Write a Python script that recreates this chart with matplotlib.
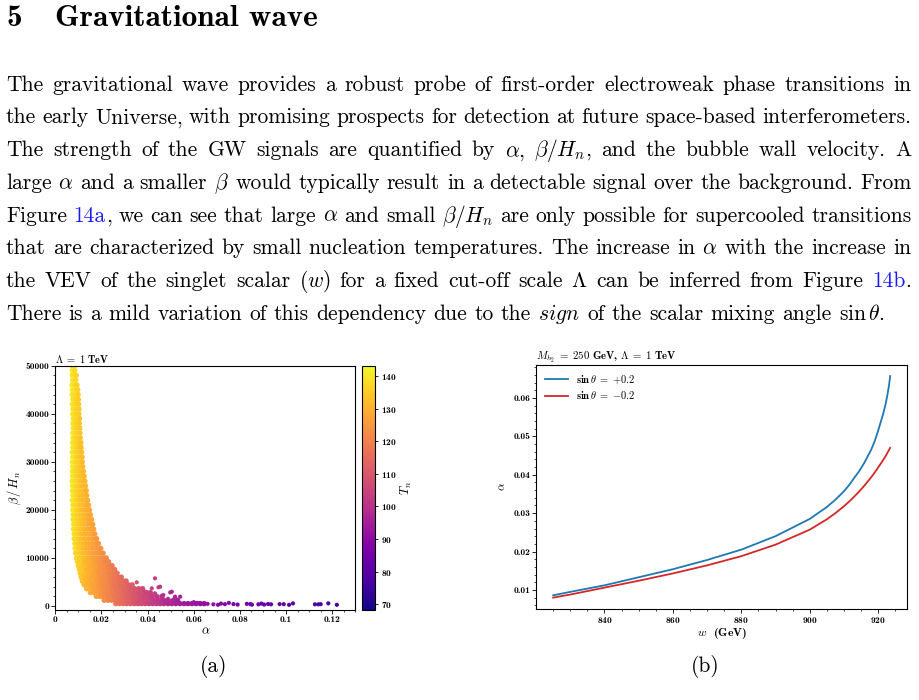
import re

import matplotlib.pyplot as plt
import matplotlib.ticker as ticker

plt.rcParams['font.family'] = 'cmb10'
plt.rcParams['mathtext.fontset'] = 'cm'
plt.rcParams['axes.formatter.use_mathtext'] = True

W, H = 919, 700
LINK = '#1a1aff'

heading_num = '5'
heading_txt = 'Gravitational wave'
paragraph = [
    "The gravitational wave provides a robust probe of first-order electroweak phase transitions in",
    "the early Universe, with promising prospects for detection at future space-based interferometers.",
    r"The strength of the GW signals are quantified by $\alpha$, $\beta/H_n$, and the bubble wall velocity. A",
    r"large $\alpha$ and a smaller $\beta$ would typically result in a detectable signal over the background. From",
    r"Figure [14a], we can see that large $\alpha$ and small $\beta/H_n$ are only possible for supercooled transitions",
    r"that are characterized by small nucleation temperatures. The increase in $\alpha$ with the increase in",
    r"the VEV of the singlet scalar $(w)$ for a fixed cut-off scale $\Lambda$ can be inferred from Figure [14b].",
    r"There is a mild variation of this dependency due to the $\mathit{sign}$ of the scalar mixing angle $\sin\theta$.",
]

# panel (a): scatter rows (beta level, alpha values, Tn values)
band_beta = [49800, 49000, 48000, 47000, 46000, 45000, 44000, 43000, 42000, 41000,
             40000, 39000, 38000, 37000, 36000, 35000, 34000, 33000, 32000, 31000,
             30000, 29000, 28000, 27000, 26000, 25000, 24000, 23000, 22000, 21000,
             20000, 19000, 18000, 17000, 16000, 15000, 14000, 13000, 12000, 11000,
             10000, 9200, 8400, 7600, 6800, 6000, 5200, 4400, 3600, 2800,
             2000, 1200, 500]
band_alpha = [
    [0.0075, 0.0082],
    [0.0074, 0.0084],
    [0.0073, 0.0083, 0.0091],
    [0.0075, 0.0088],
    [0.0072, 0.0082, 0.0094],
    [0.0074, 0.0086, 0.0097],
    [0.0073, 0.0085, 0.0099],
    [0.0076, 0.0089, 0.0100],
    [0.0074, 0.0087, 0.0101],
    [0.0077, 0.0090, 0.0103],
    [0.0075, 0.0088, 0.0102],
    [0.0078, 0.0091, 0.0105],
    [0.0076, 0.0089, 0.0104],
    [0.0078, 0.0092, 0.0106],
    [0.0076, 0.0090, 0.0107],
    [0.0077, 0.0093, 0.0108],
    [0.0075, 0.0089, 0.0102, 0.0111],
    [0.0076, 0.0091, 0.0105, 0.0112],
    [0.0074, 0.0088, 0.0101, 0.0114],
    [0.0076, 0.0090, 0.0104, 0.0116],
    [0.0074, 0.0089, 0.0103, 0.0117],
    [0.0075, 0.0090, 0.0105, 0.0119],
    [0.0074, 0.0088, 0.0102, 0.0115, 0.0122],
    [0.0075, 0.0090, 0.0104, 0.0117, 0.0125],
    [0.0073, 0.0087, 0.0101, 0.0115, 0.0128],
    [0.0075, 0.0090, 0.0104, 0.0118, 0.0131],
    [0.0074, 0.0088, 0.0102, 0.0116, 0.0130, 0.0134],
    [0.0076, 0.0091, 0.0105, 0.0120, 0.0136],
    [0.0074, 0.0089, 0.0104, 0.0119, 0.0133, 0.0140],
    [0.0077, 0.0092, 0.0107, 0.0122, 0.0137, 0.0144],
    [0.0076, 0.0090, 0.0105, 0.0120, 0.0135, 0.0148],
    [0.0078, 0.0093, 0.0108, 0.0123, 0.0138, 0.0152],
    [0.0077, 0.0092, 0.0107, 0.0122, 0.0137, 0.0150, 0.0157],
    [0.0080, 0.0095, 0.0110, 0.0125, 0.0140, 0.0155, 0.0162],
    [0.0079, 0.0094, 0.0109, 0.0124, 0.0139, 0.0153, 0.0166],
    [0.0082, 0.0097, 0.0112, 0.0127, 0.0142, 0.0157, 0.0171],
    [0.0082, 0.0097, 0.0112, 0.0127, 0.0142, 0.0157, 0.0171, 0.0179],
    [0.0085, 0.0100, 0.0115, 0.0130, 0.0145, 0.0160, 0.0175, 0.0187],
    [0.0086, 0.0101, 0.0116, 0.0131, 0.0146, 0.0161, 0.0176, 0.0189, 0.0197],
    [0.0089, 0.0104, 0.0119, 0.0134, 0.0149, 0.0164, 0.0179, 0.0194, 0.0207],
    [0.0092, 0.0107, 0.0122, 0.0137, 0.0152, 0.0167, 0.0182, 0.0197, 0.0211, 0.0221],
    [0.0096, 0.0111, 0.0126, 0.0141, 0.0156, 0.0171, 0.0186, 0.0201, 0.0216, 0.0231],
    [0.0100, 0.0115, 0.0130, 0.0146, 0.0161, 0.0177, 0.0192, 0.0208, 0.0223, 0.0237, 0.0246],
    [0.0104, 0.0119, 0.0135, 0.0150, 0.0166, 0.0181, 0.0197, 0.0212, 0.0228, 0.0243, 0.0257],
    [0.0108, 0.0124, 0.0140, 0.0156, 0.0172, 0.0188, 0.0204, 0.0220, 0.0236, 0.0252, 0.0268],
    [0.0112, 0.0128, 0.0144, 0.0160, 0.0176, 0.0192, 0.0208, 0.0224, 0.0240, 0.0256, 0.0272, 0.0286],
    [0.0117, 0.0133, 0.0149, 0.0165, 0.0181, 0.0197, 0.0213, 0.0229, 0.0245, 0.0261, 0.0277, 0.0293,
     0.0307],
    [0.0125, 0.0141, 0.0157, 0.0173, 0.0189, 0.0205, 0.0221, 0.0237, 0.0253, 0.0269, 0.0285, 0.0301,
     0.0317, 0.0333],
    [0.0136, 0.0152, 0.0168, 0.0184, 0.0200, 0.0216, 0.0232, 0.0248, 0.0264, 0.0280, 0.0296, 0.0312,
     0.0328, 0.0344, 0.0362, 0.0378],
    [0.0152, 0.0168, 0.0184, 0.0200, 0.0216, 0.0232, 0.0248, 0.0264, 0.0280, 0.0296, 0.0312, 0.0328,
     0.0344, 0.0360, 0.0376, 0.0395, 0.0412],
    [0.0178, 0.0194, 0.0210, 0.0226, 0.0242, 0.0258, 0.0274, 0.0290, 0.0306, 0.0322, 0.0338, 0.0354,
     0.0370, 0.0386, 0.0402, 0.0420, 0.0440, 0.0462],
    [0.0212, 0.0228, 0.0244, 0.0260, 0.0276, 0.0292, 0.0308, 0.0324, 0.0340, 0.0356, 0.0372, 0.0388,
     0.0404, 0.0420, 0.0436, 0.0452, 0.0470, 0.0490, 0.0512, 0.0530],
    [0.0262, 0.0278, 0.0294, 0.0310, 0.0326, 0.0342, 0.0358, 0.0374, 0.0390, 0.0406, 0.0422, 0.0438,
     0.0454, 0.0470, 0.0488, 0.0505, 0.0522, 0.0540, 0.0558, 0.0575, 0.0592, 0.0610, 0.0628, 0.0645],
]
band_tn = [
    [139, 138],
    [140, 138],
    [140, 138, 137],
    [140, 137],
    [141, 138, 136],
    [140, 138, 136],
    [140, 138, 135],
    [139, 137, 135],
    [140, 137, 135],
    [139, 137, 135],
    [140, 137, 135],
    [139, 137, 134],
    [140, 137, 134],
    [139, 136, 134],
    [140, 137, 134],
    [139, 136, 134],
    [140, 137, 135, 133],
    [140, 137, 134, 133],
    [140, 137, 135, 133],
    [140, 137, 134, 133],
    [140, 137, 135, 132],
    [140, 137, 134, 132],
    [140, 137, 135, 133, 132],
    [140, 137, 134, 133, 132],
    [140, 138, 135, 133, 131],
    [140, 137, 134, 132, 131],
    [140, 137, 135, 133, 131, 130],
    [140, 137, 134, 132, 130],
    [140, 137, 134, 132, 131, 130],
    [139, 137, 134, 132, 130, 129],
    [140, 137, 134, 132, 130, 129],
    [139, 136, 134, 132, 130, 128],
    [139, 137, 134, 132, 130, 129, 128],
    [139, 136, 134, 132, 130, 128, 127],
    [139, 136, 134, 132, 130, 128, 127],
    [138, 136, 133, 131, 130, 128, 126],
    [138, 136, 133, 131, 130, 128, 126, 125],
    [138, 135, 133, 131, 129, 128, 126, 125],
    [138, 135, 133, 131, 129, 127, 126, 125, 124],
    [137, 135, 133, 131, 129, 127, 126, 124, 123],
    [137, 135, 133, 131, 129, 127, 126, 124, 123, 122],
    [137, 135, 132, 130, 129, 127, 125, 124, 122, 121],
    [136, 134, 132, 130, 128, 127, 125, 123, 122, 120, 119],
    [135, 134, 131, 129, 128, 126, 124, 123, 121, 120, 118],
    [135, 133, 131, 129, 127, 125, 124, 122, 120, 119, 117],
    [134, 132, 130, 128, 127, 125, 123, 122, 120, 118, 117, 115],
    [133, 131, 129, 128, 126, 124, 123, 121, 119, 118, 116, 115, 113],
    [132, 130, 128, 127, 125, 123, 122, 120, 118, 117, 115, 114, 112, 111],
    [131, 129, 127, 126, 124, 122, 121, 119, 117, 116, 114, 113, 111, 110, 108, 107],
    [129, 127, 126, 124, 122, 121, 119, 117, 116, 114, 113, 111, 110, 108, 107, 105, 104],
    [127, 125, 123, 121, 120, 118, 117, 115, 113, 112, 110, 109, 108, 106, 105, 103, 102, 100],
    [123, 121, 120, 118, 116, 115, 113, 112, 110, 109, 107, 106, 105, 103, 102, 101, 99, 98, 97, 96],
    [118, 116, 115, 113, 112, 110, 108, 107, 106, 104, 103, 102, 101, 99, 98, 97, 96, 95, 94, 93,
     93, 92, 91, 91],
]
out_alpha = [0.0353, 0.0382, 0.0418, 0.0432, 0.0432, 0.0447, 0.0454, 0.0468, 0.0498, 0.0505,
             0.0519, 0.0541, 0.0600, 0.0615, 0.0488, 0.0395]
out_beta = [4930, 3330, 3680, 5760, 2640, 3890, 4010, 2290, 2830, 2970,
            1940, 1940, 800, 650, 1500, 2500]
out_tn = [109, 106, 104, 103, 103, 102, 101, 100, 98, 97, 96, 95, 93, 92, 99, 105]
tail_alpha = [0.0660, 0.0685, 0.0705, 0.0718, 0.0735, 0.0752, 0.0772, 0.0790, 0.0830, 0.0845,
              0.0852, 0.0880, 0.0893, 0.0905, 0.0922, 0.0935, 0.0972, 0.0990, 0.1013, 0.1030,
              0.1125, 0.1140, 0.1150, 0.1183, 0.1220]
tail_beta = [450, 350, 250, 500, 380, 650, 400, 300, 450, 400,
             280, 350, 500, 300, 420, 350, 400, 380, 250, 550,
             350, 350, 380, 550, 250]
tail_tn = [91, 90, 89, 89, 88, 87, 86, 86, 85, 84, 84, 84, 83, 83, 82, 82, 81, 81, 80, 80,
           78, 78, 78, 77, 76]

# panel (b)
w_vals = [825, 830, 840, 850, 860, 870, 880, 890, 900, 905, 907.5, 910, 911.5, 913, 914.5, 916,
          918, 919, 920, 921.5, 922.2, 922.7, 923.2, 923.5]
alpha_pos = [0.0086, 0.0095, 0.0112, 0.0133, 0.0154, 0.0178, 0.0205, 0.0240, 0.0285, 0.0316,
             0.0335, 0.0357, 0.0373, 0.0392, 0.0410, 0.0432, 0.0466, 0.0488, 0.0515, 0.0560,
             0.0585, 0.0608, 0.0635, 0.0657]
alpha_neg = [0.0080, 0.0088, 0.0106, 0.0124, 0.0143, 0.0164, 0.0188, 0.0218, 0.0257, 0.0284,
             0.0300, 0.0318, 0.0330, 0.0343, 0.0357, 0.0372, 0.0394, 0.0406, 0.0419, 0.0439,
             0.0449, 0.0457, 0.0465, 0.0470]


def fx(x):
    return x / W


def fy(y):
    return 1 - y / H


def draw_line(fig, line, y, x0, x1, size, justify=True):
    """places one line of body text word by word, optionally justified"""
    renderer = fig.canvas.get_renderer()
    words = []
    for token in line.split(' '):
        row = []
        for part in re.split(r'(\[.*?\])', token):
            if not part:
                continue
            colour = LINK if part.startswith('[') else 'black'
            txt = part.strip('[]')
            t = fig.text(0, fy(y), txt, color=colour, fontsize=size, family='cmr10', va='baseline')
            row.append((t, t.get_window_extent(renderer).width))
        words.append(row)
    widths = [sum(w for _, w in row) for row in words]
    if justify:
        space = (x1 - x0 - sum(widths)) / (len(words) - 1)
    else:
        space = 0.333 * size * fig.dpi / 72
    x = x0
    for row in words:
        for t, w in row:
            t.set_x(fx(x))
            x += w
        x += space


fig = plt.figure(figsize=(W / 100, H / 100), dpi=100)

fig.text(fx(6), fy(26), heading_num, fontsize=22.5, family='cmb10', va='baseline')
fig.text(fx(55), fy(26), heading_txt, fontsize=22.5, family='cmb10', va='baseline')
for i, line in enumerate(paragraph):
    draw_line(fig, line, 90.6 + 32.77 * i, 6, 911.5, 15.5, justify=i < len(paragraph) - 1)

# (a) scatter
band_a = [a for row in band_alpha for a in row]
band_b = [b for b, row in zip(band_beta, band_alpha) for _ in row]
band_t = [t for row in band_tn for t in row]
sparse_a = out_alpha + tail_alpha
sparse_b = out_beta + tail_beta
sparse_t = out_tn + tail_tn

ax_a = fig.add_axes([fx(55.3), fy(610), 300 / W, 244.3 / H])
cax = fig.add_axes([fx(362), fy(610), 13 / W, 244.3 / H])
sc = ax_a.scatter(band_a, band_b, c=band_t, cmap='plasma', vmin=68.2, vmax=143.2,
                  s=15, linewidths=0)
ax_a.scatter(sparse_a, sparse_b, c=sparse_t, cmap='plasma', vmin=68.2, vmax=143.2,
             s=9, linewidths=0)
ax_a.set_xlim(0, 0.13)
ax_a.set_ylim(-830, 50000)
ax_a.xaxis.set_major_locator(ticker.MultipleLocator(0.02))
ax_a.xaxis.set_major_formatter(ticker.FormatStrFormatter('%g'))
ax_a.yaxis.set_major_locator(ticker.MultipleLocator(10000))
ax_a.yaxis.set_major_formatter(ticker.FormatStrFormatter('%d'))
ax_a.xaxis.set_minor_locator(ticker.AutoMinorLocator(4))
ax_a.yaxis.set_minor_locator(ticker.AutoMinorLocator(5))
ax_a.set_xlabel(r'$\alpha$', fontsize=9, labelpad=1)
ax_a.set_ylabel(r'$\beta\,/\,H_n$', fontsize=9, labelpad=2)
ax_a.set_title(r'$\Lambda\;=\;\mathbf{1}$ TeV', loc='left', fontsize=7.5, pad=2)

cb = fig.colorbar(sc, cax=cax)
cb.set_ticks([70, 80, 90, 100, 110, 120, 130, 140])
cb.set_label(r'$T_n$', fontsize=9, labelpad=2)
cb.outline.set_linewidth(0.8)
cax.tick_params(length=2.5, width=0.6, labelsize=6.8, pad=1.5)

# (b) curves
ax_b = fig.add_axes([fx(536.3), fy(608.7), 370.7 / W, 243.7 / H])
ax_b.plot(w_vals, alpha_pos, color='#1f77b4', lw=1.3,
          label=r'$\mathbf{sin}\,\theta\;=\;{+}\mathbf{0.2}$')
ax_b.plot(w_vals, alpha_neg, color='#d62728', lw=1.3,
          label=r'$\mathbf{sin}\,\theta\;=\;{-}\mathbf{0.2}$')
ax_b.xaxis.set_major_locator(ticker.MultipleLocator(20))
ax_b.xaxis.set_minor_locator(ticker.AutoMinorLocator(4))
ax_b.yaxis.set_major_locator(ticker.MultipleLocator(0.01))
ax_b.yaxis.set_major_formatter(ticker.FormatStrFormatter('%.2f'))
ax_b.yaxis.set_minor_locator(ticker.AutoMinorLocator(5))
ax_b.set_xlabel(r'$w$  (GeV)', fontsize=8.5, labelpad=1)
ax_b.set_ylabel(r'$\alpha$', fontsize=8.5, labelpad=4)
ax_b.set_title(r'$M_{h_2}\;=\;\mathbf{250}$ GeV, $\Lambda\;=\;\mathbf{1}$ TeV', loc='left',
               fontsize=7.8, pad=2)
ax_b.legend(loc='upper left', frameon=False, fontsize=7.5, handlelength=2.2,
            borderaxespad=0.4, labelspacing=0.35)

for ax in (ax_a, ax_b):
    ax.tick_params(which='major', length=3, width=0.6, labelsize=6.8, pad=1.5)
    ax.tick_params(which='minor', length=1.5, width=0.5)
    for spine in ax.spines.values():
        spine.set_linewidth(0.8)

fig.text(fx(213.3), fy(671.5), '(a)', fontsize=15.5, family='cmr10', ha='center', va='baseline')
fig.text(fx(705), fy(671.5), '(b)', fontsize=15.5, family='cmr10', ha='center', va='baseline')

fig.savefig('out.png', dpi=100)
